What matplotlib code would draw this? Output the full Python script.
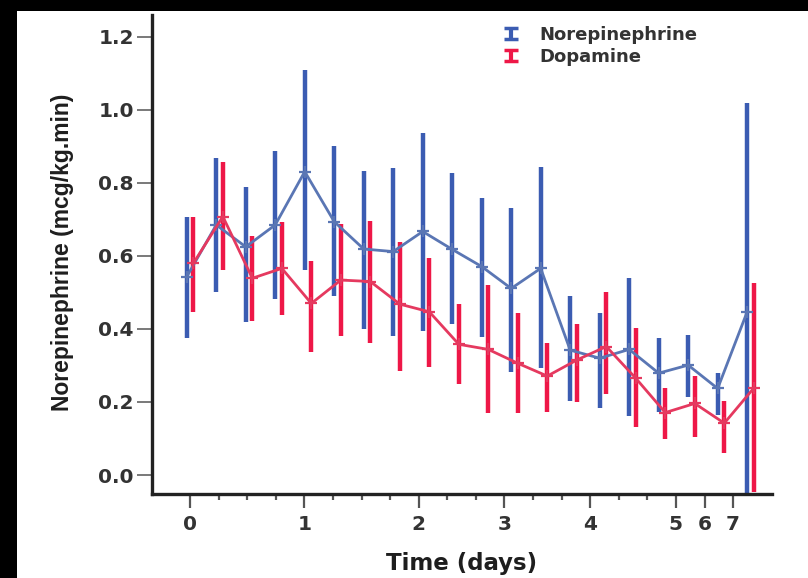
import numpy as np
import matplotlib
matplotlib.use('Agg')
import matplotlib.pyplot as plt
from matplotlib import font_manager
from matplotlib.container import ErrorbarContainer
from matplotlib.legend_handler import HandlerErrorbar
from matplotlib.patches import Rectangle

# Sampling points (every 6 h for the first days, then daily)
n_points = 20
tick_labels = ['0', '', '', '', '1', '', '', '', '2', '', '', '3', '', '', '4', '', '', '5', '6', '7']

# Norepinephrine dose: mean with lower / upper limits of the error bars
ne_mean = [0.543, 0.685, 0.625, 0.685, 0.831, 0.694, 0.619, 0.612, 0.667, 0.618,
           0.571, 0.511, 0.566, 0.342, 0.320, 0.344, 0.279, 0.301, 0.237, 0.447]
ne_low = [0.374, 0.500, 0.420, 0.481, 0.562, 0.490, 0.399, 0.381, 0.395, 0.415,
          0.377, 0.283, 0.292, 0.204, 0.183, 0.162, 0.173, 0.215, 0.164, -0.048]
ne_high = [0.708, 0.868, 0.788, 0.888, 1.110, 0.901, 0.834, 0.840, 0.938, 0.826,
           0.758, 0.732, 0.843, 0.490, 0.445, 0.539, 0.375, 0.384, 0.279, 1.019]

# Dopamine dose
da_mean = [0.580, 0.708, 0.539, 0.566, 0.470, 0.534, 0.530, 0.468, 0.447, 0.358,
           0.344, 0.306, 0.271, 0.315, 0.352, 0.265, 0.171, 0.196, 0.142, 0.238]
da_low = [0.447, 0.562, 0.423, 0.438, 0.338, 0.381, 0.361, 0.286, 0.297, 0.248,
          0.169, 0.169, 0.173, 0.201, 0.222, 0.131, 0.098, 0.105, 0.061, -0.046]
da_high = [0.708, 0.858, 0.655, 0.694, 0.587, 0.688, 0.697, 0.639, 0.594, 0.468,
           0.521, 0.443, 0.361, 0.414, 0.500, 0.402, 0.238, 0.271, 0.204, 0.525]

blue_bar = '#3b5cb2'
blue_line = '#5a76b4'
red_bar = '#ee1747'
red_line = '#e5395f'
text_col = '#333333'

wide = ['DejaVu Sans']
# condensed face for the axis title if present
try:
    font_manager.findfont('Liberation Sans Narrow', fallback_to_default=False)
    narrow, narrow_size = ['Liberation Sans Narrow', 'DejaVu Sans'], 19.5
except ValueError:
    narrow, narrow_size = ['Liberation Sans', 'DejaVu Sans'], 16.5

W, H = 808, 578
fig = plt.figure(figsize=(W / 100, H / 100), dpi=100)
fig.patch.set_facecolor('white')
ax = fig.add_axes([152 / W, 84 / H, 620 / W, 479 / H])

x = np.arange(n_points)
dx = 0.112

series = [
    (x - dx, ne_mean, ne_low, ne_high, blue_bar, blue_line, 'Norepinephrine'),
    (x + dx, da_mean, da_low, da_high, red_bar, red_line, 'Dopamine'),
]
for xs, mean, low, high, bc, lc, name in series:
    mean = np.array(mean)
    yerr = [mean - np.array(low), np.array(high) - mean]
    ax.errorbar(xs, mean, yerr=yerr, fmt='none', ecolor=bc, elinewidth=3.2, capsize=0, zorder=2)
    ax.plot(xs, mean, color=lc, lw=2.0, marker='+', ms=9, mew=1.6, zorder=3)
    # legend proxy: bar with caps
    ax.errorbar([np.nan], [np.nan], yerr=[np.nan], fmt='none', ecolor=bc, elinewidth=3,
                capsize=5, capthick=2.5, label=name)

ax.set_xlim(-1.29, 19.73)
ax.set_ylim(-0.052, 1.26)

for s in ['top', 'right']:
    ax.spines[s].set_visible(False)
for s in ['left', 'bottom']:
    ax.spines[s].set_linewidth(2.4)
    ax.spines[s].set_color('#222222')

ax.set_yticks([0.0, 0.2, 0.4, 0.6, 0.8, 1.0, 1.2])
ax.set_yticklabels(['0.0', '0.2', '0.4', '0.6', '0.8', '1.0', '1.2'])
ax.tick_params(axis='y', length=11, width=1.1, color='#555555', pad=2,
               labelsize=14.5, labelcolor=text_col)

# day ticks run on a slightly tighter spacing than the sampling points
tick_step = 0.969
major = [i for i, t in enumerate(tick_labels) if t]
minor = [i for i, t in enumerate(tick_labels) if not t]
ax.set_xticks([i * tick_step for i in major])
ax.set_xticklabels([tick_labels[i] for i in major])
ax.set_xticks([i * tick_step for i in minor], minor=True)
ax.tick_params(axis='x', which='major', length=10, width=1.6, color='#555555', pad=5,
               labelsize=14.5, labelcolor=text_col)
ax.tick_params(axis='x', which='minor', length=4.5, width=1.6, color='#555555')
for lab in ax.get_xticklabels() + ax.get_yticklabels():
    lab.set_fontweight('bold')
    lab.set_family(wide)

ax.set_xlabel('Time (days)', fontsize=16.5, fontweight='bold', color='#1e1e1e',
              family=wide)
ax.xaxis.set_label_coords(0.5, -0.145)
ax.xaxis.label.set_va('center')

ax.set_ylabel('Norepinephrine (mcg/kg.min)', fontsize=narrow_size, fontweight='bold',
              color='#1e1e1e', family=narrow)
ax.yaxis.set_label_coords(-0.144, 0.505)
ax.yaxis.label.set_va('center')

leg = fig.legend(loc='upper left', bbox_to_anchor=(500 / W, (H - 26) / H),
                 frameon=False,
                 prop={'family': wide, 'weight': 'bold', 'size': 13},
                 handlelength=1.2, handletextpad=1.0, labelspacing=0.22,
                 borderpad=0, borderaxespad=0,
                 handler_map={ErrorbarContainer: HandlerErrorbar(xerr_size=0.5, yerr_size=0.3)})
for t in leg.get_texts():
    t.set_color(text_col)

# dark border strips on the top and left edges
fig.patches.append(Rectangle((0, 1 - 11 / H), 1, 11 / H, transform=fig.transFigure,
                             facecolor='black', edgecolor='none', zorder=10))
fig.patches.append(Rectangle((0, 0), 17 / W, 1, transform=fig.transFigure,
                             facecolor='black', edgecolor='none', zorder=10))

fig.savefig('out.png', dpi=100)
